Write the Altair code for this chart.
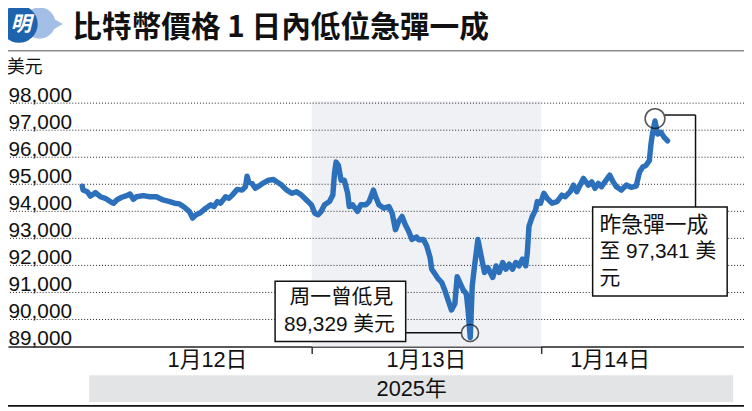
import altair as alt
import pandas as pd

# ---------------- data ----------------
# hours since 2025-01-12 00:00
hours = [0.0, 0.10, 0.52, 0.86, 1.38, 1.90, 2.41, 2.93, 3.28, 3.62, 4.14, 4.66, 5.00, 5.35, 5.69,
         6.38, 7.07, 7.76, 8.45, 9.14, 9.66, 10.17, 10.69, 11.21, 11.55, 11.90, 12.31,
         12.93, 13.45, 13.79, 14.14, 14.48, 15.00, 15.34, 15.69, 16.21, 16.72, 17.07, 17.24,
         17.41, 17.76, 18.10, 18.45, 18.97, 19.48, 20.00, 20.34, 20.86, 21.38, 21.90, 22.41,
         22.93, 23.45, 23.97, 24.31, 24.66, 25.00, 25.34, 25.86, 26.21, 26.38, 26.55, 26.79,
         27.07, 27.41, 27.76, 27.93, 28.28, 28.79, 29.14, 29.66, 30.00, 30.45, 30.69, 31.03,
         31.55, 32.07, 32.41, 32.76, 33.10, 33.45, 33.79, 34.14, 34.48, 34.97, 35.17, 35.69,
         36.03, 36.38, 36.55, 36.90, 37.24, 37.59, 37.93, 38.28, 38.62, 38.97, 39.21, 39.48,
         39.83, 40.17, 40.34, 40.58, 40.79, 41.03, 41.38, 41.72, 42.07, 42.41, 42.93, 43.28,
         43.62, 43.97, 44.31, 44.66, 45.00, 45.34, 45.69, 46.03, 46.38, 46.55, 46.72, 47.07,
         47.41, 47.59, 47.93, 48.28, 48.62, 49.14, 49.66, 50.17, 50.52, 51.03, 51.38, 51.72,
         52.07, 52.41, 52.93, 53.28, 53.62, 53.97, 54.31, 54.66, 55.17, 55.52, 55.86, 56.38,
         56.90, 57.41, 57.93, 58.28, 58.62, 58.97, 59.31, 59.48, 59.66, 59.90, 60.17, 60.52,
         60.86, 61.21]
prices = [94930, 94785, 94725, 94565, 94690, 94540, 94480, 94360, 94300, 94420, 94520, 94580, 94640, 94445, 94540,
          94580, 94540, 94540, 94420, 94360, 94300, 94275, 94150, 93990, 93750, 93870, 93935,
          94115, 94240, 94175, 94360, 94300, 94540, 94480, 94600, 94810, 94785, 94905, 95300,
          95090, 95030, 94850, 94930, 95055, 95150, 95175, 95090, 94970, 94785, 94665, 94725,
          94600, 94420, 94240, 93935, 93870, 94000, 94240, 94360, 94600, 95400, 95820, 95700,
          95150, 95150, 94665, 94175, 94240, 94000, 94240, 94240, 94360, 94785, 94540, 94240,
          94115, 94175, 93935, 93320, 93630, 93810, 93505, 93260, 92960, 93050, 92950, 92960,
          92715, 92290, 91860, 91680, 91500, 91375, 91070, 90700, 90350, 90580, 91580, 91375,
          91100, 90950, 90400, 89329, 91250, 91980, 92960, 92350, 91740, 91920, 91555, 91980,
          91740, 92105, 91860, 92045, 91860, 92105, 91985, 92230, 91985, 92470, 93445, 93810,
          94055, 94360, 94300, 94665, 94480, 94300, 94360, 94600, 94540, 94725, 94970, 94725,
          94970, 95215, 94970, 95090, 94850, 95030, 94910, 95090, 95335, 95090, 94910, 94785,
          94970, 94885, 94930, 95455, 95640, 95700, 95880, 96490, 96920, 97341, 96860, 96920,
          96735, 96610]

y_ticks = [89000, 90000, 91000, 92000, 93000, 94000, 95000, 96000, 97000, 98000]
day_bounds = [24, 48]
date_labels = ["1月12日", "1月13日", "1月14日"]
date_label_hours = [13.1, 36.0, 55.2]
year_label = "2025年"
title_text = "比特幣價格 1 日內低位急彈一成"
unit_text = "美元"
low_note = ["周一曾低見", "89,329 美元"]
high_note = ["昨急彈一成", "至 97,341 美", "元"]

# ---------------- layout ----------------
W, H = 744, 246
X_DOMAIN = [-7.759, 69.207]
Y_DOMAIN = [89000, 98000]
CJK = "Noto Sans CJK TC"
LAT = "Liberation Sans, Noto Sans CJK TC"
BLUE = "#2c70bb"


def px(X):
    return X - 8


def py(Y):
    return Y - 102


df = pd.DataFrame({"h": hours, "p": prices})
one = pd.DataFrame({"k": [0]})

xs = alt.Scale(domain=X_DOMAIN, nice=False, zero=False)
ys = alt.Scale(domain=Y_DOMAIN, nice=False, zero=False)

x_axis = alt.Axis(values=day_bounds, labels=False, ticks=True, tickSize=7, tickWidth=1.5,
                  tickColor="#333", domain=True, domainColor="#222", domainWidth=1.5,
                  grid=False, title=None)
y_axis = alt.Axis(values=y_ticks, format=",d", title=None, grid=False, domain=False, ticks=False,
                  tickSize=0, labelPadding=0, labelAlign="left", labelBaseline="alphabetic",
                  labelOffset=-2, labelFontSize=21, labelFont="Liberation Sans",
                  labelColor="#111", labelOverlap=False)


def X(field):
    return alt.X(field, scale=xs, axis=x_axis)


def Y(field):
    return alt.Y(field, scale=ys, axis=y_axis)


# shaded day (Jan 13)
shade = alt.Chart(pd.DataFrame({"a": [day_bounds[0]], "b": [day_bounds[1]],
                                "lo": [Y_DOMAIN[0]], "hi": [98080]})).mark_rect(
    color="#eff1f4").encode(x=X("a:Q"), x2="b:Q", y=Y("lo:Q"), y2="hi:Q")

grid = alt.Chart(pd.DataFrame({"v": y_ticks[1:], "a": [-7.86] * 9, "b": [X_DOMAIN[1]] * 9})).mark_rule(
    color="#222", strokeDash=[1, 2], strokeWidth=1).encode(
    y=Y("v:Q"), x=X("a:Q"), x2="b:Q")

line = alt.Chart(df).mark_line(color=BLUE, strokeWidth=5.5, strokeJoin="round",
                               strokeCap="round").encode(x=X("h:Q"), y=Y("p:Q"))

# annotation circles (at the low and high points)
circ = alt.Chart(pd.DataFrame({"h": [40.55, 59.9], "p": [89500, 97430], "s": [300, 400]})).mark_point(
    shape="circle", filled=False, color="#111", strokeWidth=1.6).encode(
    x=X("h:Q"), y=Y("p:Q"), size=alt.Size("s:Q", scale=None, legend=None))


def rule(x1, y1, x2, y2, color="#111", w=1.5):
    return alt.Chart(one).mark_rule(color=color, strokeWidth=w).encode(
        x=alt.value(x1), x2=alt.value(x2), y=alt.value(y1), y2=alt.value(y2))


def box(x1, y1, x2, y2, fill="white", stroke="#111", w=1.5):
    m = alt.Chart(one).mark_rect(fill=fill, stroke=stroke, strokeWidth=w) if stroke else \
        alt.Chart(one).mark_rect(fill=fill)
    return m.encode(x=alt.value(x1), x2=alt.value(x2), y=alt.value(y1), y2=alt.value(y2))


def text(t, x, y, size, align="left", font=LAT, weight="normal", color="#111",
         baseline="middle", italic=False):
    kw = dict(align=align, baseline=baseline, fontSize=size, font=font,
              fontWeight=weight, color=color)
    if italic:
        kw["fontStyle"] = "italic"
    return alt.Chart(one).mark_text(**kw).encode(
        x=alt.value(x), y=alt.value(y), text=alt.value(t))


# callout 1 (low)
c1_line = rule(px(410), py(334), px(466), py(334))
c1_box = box(px(278), py(282), px(410), py(343))
c1_t1 = text(low_note[0], px(345), py(299), 21, align="center", font=CJK)
c1_t2 = text(low_note[1], px(343), py(326), 21, align="center")

# callout 2 (high)
c2_h = rule(px(672), py(114), px(703), py(114))
c2_v = rule(px(703), py(114), px(703), py(207))
c2_box = box(px(599), py(207), px(735), py(297))
c2_t1 = text(high_note[0], px(606), py(225), 22, font=CJK)
c2_t2 = text(high_note[1], px(606), py(253), 21)
c2_t3 = text(high_note[2], px(606), py(280), 21, font=CJK)

# date labels under the axis
dates = alt.Chart(pd.DataFrame({"h": date_label_hours, "t": date_labels})).mark_text(
    fontSize=22, font=LAT, color="#111", baseline="middle").encode(
    x=X("h:Q"), y=alt.value(py(362)), text="t:N")

year_band = box(px(90), py(377), px(741), py(404), fill="#e3e4e6", stroke=None)
year_txt = text(year_label, px(416), py(391), 22, align="center")
bottom_line = rule(px(0), py(408), px(752), py(408), color="#111", w=2)

# header
head_line = rule(px(0), py(49), px(752), py(49), color="#8c8c8c", w=1.5)
bubble_c = alt.Chart(one).mark_circle(color="#a3bfe6", opacity=1, size=1000).encode(
    x=alt.value(px(40)), y=alt.value(py(21)))
bubble_t = alt.Chart(one).mark_point(shape="triangle-right", filled=True, color="#a3bfe6",
                                     opacity=1, size=700).encode(
    x=alt.value(px(52)), y=alt.value(py(22)))
logo = alt.Chart(one).mark_circle(color="#1e63ad", opacity=1, size=1444).encode(
    x=alt.value(px(19)), y=alt.value(py(22)))
logo_t = text("明", px(21), py(23), 21, align="center", font=CJK, weight="bold",
              color="white", italic=True)
title = text(title_text, px(73), py(26), 30, font=CJK, weight="bold")
unit = text(unit_text, px(7), py(67), 18, font=CJK)

chart = alt.layer(
    shade, grid, line, circ,
    c1_line, c1_box, c1_t1, c1_t2,
    c2_h, c2_v, c2_box, c2_t1, c2_t2, c2_t3,
    dates, year_band, year_txt, bottom_line,
    head_line, bubble_c, bubble_t, logo, logo_t, title, unit,
).properties(
    width=W, height=H,
    autosize=alt.AutoSizeParams(type="none"),
    padding={"left": 0, "top": 94, "right": 0, "bottom": 63},
    background="white",
).configure_view(stroke=None)

chart.save("out.html", embed_options={"renderer": "svg", "actions": False})
